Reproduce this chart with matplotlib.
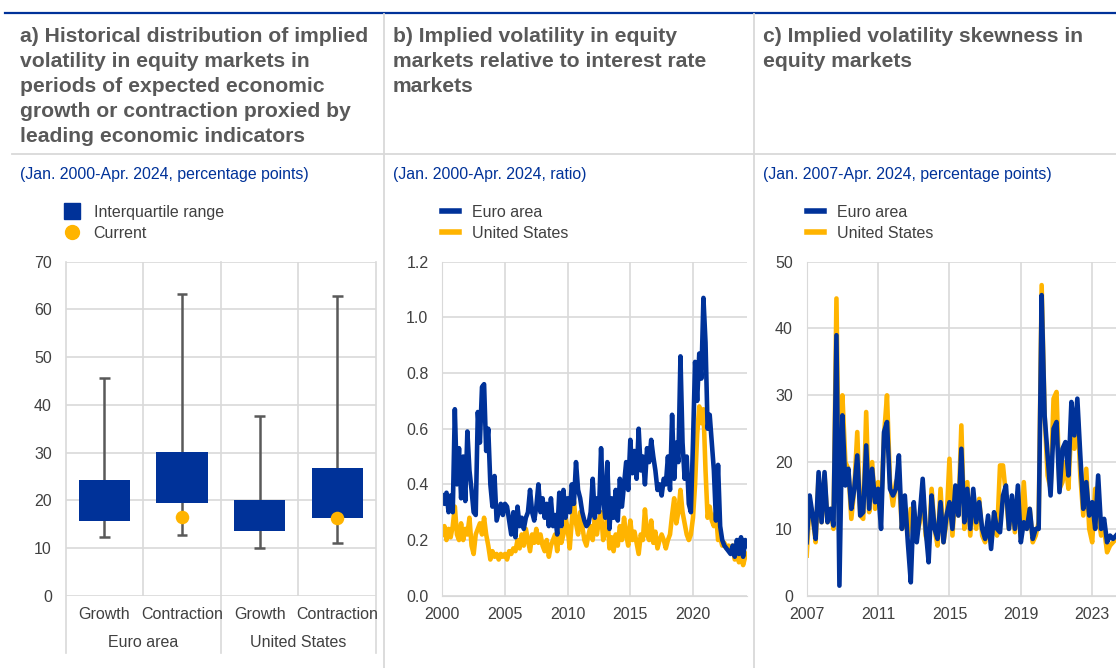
import numpy as np
import matplotlib.pyplot as plt
from matplotlib.lines import Line2D
from matplotlib.transforms import blended_transform_factory

plt.rcParams['font.family'] = ['Liberation Sans', 'DejaVu Sans']

# --- colours ---
ECB_BLUE = '#003299'
ECB_YELLOW = '#ffb400'
GRID = '#d9d9d9'
TXT = '#404040'
TITLE = '#595959'

# --- Panel a: distribution of implied volatility ---
cat_labels = ['Growth', 'Contraction', 'Growth', 'Contraction']
group_labels = ['Euro area', 'United States']
iqr_low = [15.7, 19.5, 13.6, 16.3]
iqr_high = [24.2, 30.1, 20.1, 26.7]
whisk_low = [12.2, 12.7, 10.1, 11.0]
whisk_high = [45.6, 63.3, 37.7, 62.8]
current = [np.nan, 16.4, np.nan, 16.2]

# --- Panel b: equity vol / rates vol ratio, bi-monthly, Jan 2000 - Apr 2024 ---
ratio_ea = [
    0.36, 0.33, 0.37, 0.30, 0.36, 0.30,   # 2000
    0.67, 0.40, 0.53, 0.35, 0.50, 0.34,   # 2001
    0.59, 0.45, 0.38, 0.30, 0.29, 0.66,   # 2002
    0.55, 0.75, 0.76, 0.52, 0.60, 0.40,   # 2003
    0.32, 0.43, 0.27, 0.30, 0.33, 0.29,   # 2004
    0.33, 0.32, 0.27, 0.22, 0.30, 0.21,   # 2005
    0.32, 0.25, 0.28, 0.24, 0.28, 0.30,   # 2006
    0.38, 0.30, 0.27, 0.32, 0.40, 0.30,   # 2007
    0.35, 0.28, 0.33, 0.25, 0.35, 0.25,   # 2008
    0.29, 0.22, 0.37, 0.25, 0.38, 0.28,   # 2009
    0.35, 0.30, 0.40, 0.33, 0.48, 0.38,   # 2010
    0.35, 0.30, 0.27, 0.25, 0.26, 0.30,   # 2011
    0.42, 0.28, 0.35, 0.30, 0.53, 0.35,   # 2012
    0.28, 0.48, 0.24, 0.35, 0.28, 0.38,   # 2013
    0.27, 0.42, 0.32, 0.40, 0.48, 0.38,   # 2014
    0.56, 0.44, 0.52, 0.42, 0.60, 0.45,   # 2015
    0.50, 0.40, 0.53, 0.48, 0.56, 0.50,   # 2016
    0.45, 0.38, 0.40, 0.36, 0.42, 0.40,   # 2017
    0.50, 0.38, 0.65, 0.42, 0.55, 0.48,   # 2018
    0.86, 0.55, 0.42, 0.50, 0.33, 0.30,   # 2019
    0.55, 0.84, 0.70, 0.87, 0.78, 1.07,   # 2020
    0.91, 0.60, 0.65, 0.55, 0.45, 0.27,   # 2021
    0.47, 0.25, 0.20, 0.18, 0.17, 0.16,   # 2022
    0.15, 0.18, 0.14, 0.20, 0.15, 0.21,   # 2023
    0.14, 0.20, 0.18,                     # 2024
]
ratio_us = [
    0.22, 0.25, 0.20, 0.24, 0.21, 0.25,   # 2000
    0.32, 0.22, 0.20, 0.26, 0.20, 0.24,   # 2001
    0.22, 0.28, 0.18, 0.15, 0.22, 0.24,   # 2002
    0.26, 0.22, 0.28, 0.22, 0.18, 0.13,   # 2003
    0.16, 0.14, 0.15, 0.13, 0.15, 0.14,   # 2004
    0.15, 0.13, 0.16, 0.15, 0.17, 0.16,   # 2005
    0.20, 0.17, 0.22, 0.18, 0.24, 0.20,   # 2006
    0.16, 0.22, 0.19, 0.24, 0.19, 0.22,   # 2007
    0.18, 0.16, 0.20, 0.14, 0.18, 0.20,   # 2008
    0.22, 0.16, 0.24, 0.19, 0.22, 0.28,   # 2009
    0.24, 0.17, 0.27, 0.34, 0.26, 0.22,   # 2010
    0.30, 0.25, 0.20, 0.18, 0.22, 0.25,   # 2011
    0.20, 0.28, 0.22, 0.27, 0.30, 0.20,   # 2012
    0.23, 0.29, 0.17, 0.21, 0.16, 0.22,   # 2013
    0.18, 0.25, 0.20, 0.28, 0.22, 0.18,   # 2014
    0.27, 0.20, 0.23, 0.19, 0.15, 0.22,   # 2015
    0.20, 0.31, 0.22, 0.20, 0.27, 0.19,   # 2016
    0.23, 0.17, 0.20, 0.22, 0.20, 0.17,   # 2017
    0.20, 0.22, 0.29, 0.35, 0.26, 0.30,   # 2018
    0.38, 0.30, 0.26, 0.22, 0.20, 0.22,   # 2019
    0.28, 0.40, 0.58, 0.68, 0.62, 0.67,   # 2020
    0.45, 0.28, 0.32, 0.27, 0.25, 0.30,   # 2021
    0.20, 0.21, 0.18, 0.19, 0.17, 0.18,   # 2022
    0.16, 0.18, 0.13, 0.15, 0.12, 0.14,   # 2023
    0.11, 0.14, 0.15,                     # 2024
]

# --- Panel c: implied volatility skew, bi-monthly, Jan 2007 - Apr 2024 ---
skew_ea = [
    8, 15, 12, 8.5, 18.5, 11,         # 2007
    18.5, 11, 13, 10.5, 39, 1.5,      # 2008
    27, 16.5, 19, 13, 16, 21,         # 2009
    12, 12.5, 22.5, 13, 19, 14,       # 2010
    16, 10, 24.5, 26, 16, 15,         # 2011
    16, 21, 10, 15, 8, 2,             # 2012
    14, 8, 12, 17.5, 10, 5,           # 2013
    15, 10, 8.5, 14, 8, 12,           # 2014
    14, 10, 16.5, 12, 22, 11,         # 2015
    16, 10, 16, 11, 14, 10,           # 2016
    8.5, 12, 7, 12.5, 10, 9.5,        # 2017
    15, 16.5, 10, 15, 10, 16.5,       # 2018
    8, 11, 10, 13, 8.5, 10,           # 2019
    10, 45, 27, 21, 15, 25,           # 2020
    26, 15.5, 22, 23, 18, 29,         # 2021
    24, 29.5, 21, 13, 17, 12,         # 2022
    14, 10, 18, 10, 11.5, 8,          # 2023
    9, 8.5, 9,                        # 2024
]
skew_us = [
    6, 14, 12, 8, 18, 11,             # 2007
    18, 11, 13, 10, 44.5, 11,         # 2008
    30, 20, 19, 11.5, 16, 24.5,       # 2009
    12, 11.5, 27.5, 12.5, 20, 13,     # 2010
    17, 13, 24, 30, 17, 13.5,         # 2011
    17, 18, 10, 13, 9, 13,            # 2012
    13, 9, 11, 16, 9, 7.5,            # 2013
    16, 10, 7.5, 16, 8, 11,           # 2014
    20.5, 9, 16, 12, 25.5, 10,        # 2015
    17, 9, 15, 10, 14.5, 9,           # 2016
    8, 11, 8, 12, 9, 19.5,            # 2017
    19.5, 15, 10, 14, 9.5, 15.5,      # 2018
    8.5, 17, 10, 13, 8, 9,            # 2019
    11, 46.5, 27, 18, 16, 29.5,       # 2020
    30.5, 16, 17, 20, 16, 26,         # 2021
    22, 28, 18, 12, 19, 10,           # 2022
    8, 16, 12, 9, 10, 6.5,            # 2023
    7.5, 8, 8.5,                      # 2024
]

x_b = 2000 + np.arange(len(ratio_ea)) / 6
x_c = 2007 + np.arange(len(skew_ea)) / 6

titles = [
    'a) Historical distribution of implied\nvolatility in equity markets in\nperiods of expected economic\ngrowth or contraction proxied by\nleading economic indicators',
    'b) Implied volatility in equity\nmarkets relative to interest rate\nmarkets',
    'c) Implied volatility skewness in\nequity markets',
]
subtitles = [
    '(Jan. 2000-Apr. 2024, percentage points)',
    '(Jan. 2000-Apr. 2024, ratio)',
    '(Jan. 2007-Apr. 2024, percentage points)',
]

W, H = 1116, 668
fig = plt.figure(figsize=(W / 100, H / 100), dpi=100)

def fx(px):
    return px / W

def fy(py):
    return 1 - py / H

# --- frame lines of the chart box ---
fig.add_artist(Line2D([fx(5), 1], [fy(13), fy(13)], color=ECB_BLUE, lw=1.6))
fig.add_artist(Line2D([fx(12), 1], [fy(154), fy(154)], color=GRID, lw=1.3))
for sx in [384, 754]:
    fig.add_artist(Line2D([fx(sx), fx(sx)], [fy(14), 0], color=GRID, lw=1.3))

for tx, t, s in zip([20, 393, 763], titles, subtitles):
    fig.text(fx(tx), fy(26.5), t, va='top', ha='left', fontsize=15.2,
             weight='bold', color=TITLE, linespacing=1.41)
    fig.text(fx(tx), fy(175), s, va='center', ha='left', fontsize=11.4, color=ECB_BLUE)

bottom = fy(595.7)
height = (595.7 - 261.7) / H

def style_axes(ax):
    ax.set_facecolor('white')
    for sp in ax.spines.values():
        sp.set_visible(False)
    ax.grid(True, color=GRID, lw=1.2)
    ax.set_axisbelow(True)
    ax.tick_params(length=0, labelsize=11.5, colors=TXT)
    ax.tick_params(axis='y', pad=10)
    ax.tick_params(axis='x', pad=8)

# ===== Panel a =====
ax1 = fig.add_axes([fx(65.7), bottom, fx(376 - 65.7), height])
style_axes(ax1)
pos = np.arange(len(cat_labels))
ax1.vlines(pos, whisk_low, whisk_high, color='#595959', lw=1.8, zorder=2)
ax1.hlines(whisk_low, pos - 0.07, pos + 0.07, color='#595959', lw=1.8, zorder=2)
ax1.hlines(whisk_high, pos - 0.07, pos + 0.07, color='#595959', lw=1.8, zorder=2)
ax1.bar(pos, np.array(iqr_high) - np.array(iqr_low), bottom=iqr_low, width=0.66,
        color=ECB_BLUE, zorder=3)
ax1.scatter(pos, current, s=95, color=ECB_YELLOW, zorder=4, linewidths=0)
ax1.set_xlim(-0.5, 3.5)
ax1.set_ylim(0, 70)
ax1.set_yticks(np.arange(0, 71, 10))
ax1.set_xticks(pos)
ax1.set_xticklabels(cat_labels)
ax1.grid(False, axis='x')
trans = blended_transform_factory(ax1.transData, ax1.transAxes)
ax1.axvline(0.5, color=GRID, lw=1.2, zorder=0)
ax1.axvline(2.5, color=GRID, lw=1.2, zorder=0)
for vx in [-0.5, 1.5, 3.5]:
    ax1.plot([vx, vx], [-0.172, 1], transform=trans, color=GRID, lw=1.2,
             clip_on=False, zorder=0)
for gx, g in zip([0.5, 2.5], group_labels):
    ax1.text(gx, -0.139, g, transform=trans, ha='center', va='center',
             fontsize=11.5, color=TXT)
ax1.legend(handles=[Line2D([], [], marker='s', ls='', color=ECB_BLUE, markersize=11),
                    Line2D([], [], marker='o', ls='', color=ECB_YELLOW, markersize=10)],
           labels=['Interquartile range', 'Current'], loc='upper left',
           bbox_to_anchor=(fx(64), fy(205)), bbox_transform=fig.transFigure,
           frameon=False, fontsize=11.5, handlelength=1.0, handletextpad=0.85,
           labelspacing=0.36, borderpad=0, borderaxespad=0, labelcolor=TXT)

# ===== Panel b =====
ax2 = fig.add_axes([fx(442.3), bottom, fx(747.3 - 442.3), height])
style_axes(ax2)
ax2.plot(x_b, ratio_us, color=ECB_YELLOW, lw=3.3, label='United States')
ax2.plot(x_b, ratio_ea, color=ECB_BLUE, lw=3.3, label='Euro area')
ax2.set_xlim(2000, x_b[-1])
ax2.set_ylim(0, 1.2)
ax2.set_yticks(np.arange(0, 1.21, 0.2))
ax2.set_yticklabels([f'{v:.1f}' for v in np.arange(0, 1.21, 0.2)])
ax2.set_xticks([2000, 2005, 2010, 2015, 2020])
ax2.spines['left'].set_visible(True)
ax2.spines['left'].set_color(GRID)
ax2.spines['bottom'].set_visible(True)
ax2.spines['bottom'].set_color(GRID)

# ===== Panel c =====
ax3 = fig.add_axes([fx(806.7), bottom, 1 - fx(806.7), height])
style_axes(ax3)
ax3.plot(x_c, skew_us, color=ECB_YELLOW, lw=3.3, label='United States')
ax3.plot(x_c, skew_ea, color=ECB_BLUE, lw=3.3, label='Euro area')
ax3.set_xlim(2007, x_c[-1])
ax3.set_ylim(0, 50)
ax3.set_yticks(np.arange(0, 51, 10))
ax3.set_xticks([2007, 2011, 2015, 2019, 2023])
ax3.spines['left'].set_visible(True)
ax3.spines['left'].set_color(GRID)
ax3.spines['bottom'].set_visible(True)
ax3.spines['bottom'].set_color(GRID)

for ax, lx in [(ax2, 442), (ax3, 807)]:
    h = [Line2D([], [], color=ECB_BLUE, lw=4), Line2D([], [], color=ECB_YELLOW, lw=4)]
    ax.legend(handles=h, labels=['Euro area', 'United States'], loc='upper left',
              bbox_to_anchor=(fx(lx), fy(205)), bbox_transform=fig.transFigure,
              frameon=False, fontsize=11.5, handlelength=1.05, handletextpad=0.8,
              labelspacing=0.36, borderpad=0, borderaxespad=0, labelcolor=TXT)

fig.savefig('out.png', dpi=100)
